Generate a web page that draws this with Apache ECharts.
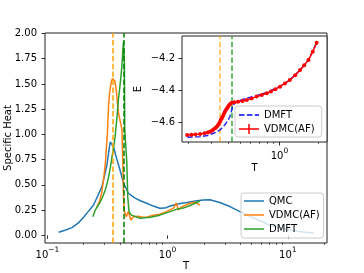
<!DOCTYPE html>
<html><head><meta charset="utf-8">
<script src="https://cdn.jsdelivr.net/npm/echarts@6/dist/echarts.min.js"></script>
<style>html,body{margin:0;padding:0;background:#fff}#c{width:364px;height:273px}</style>
</head><body><div id="c"></div><script>
// ---- main panel: specific heat vs T ----
const qmcT = [0.124,0.14,0.16,0.18,0.2,0.22,0.242,0.262,0.284,0.3,0.313,0.325,0.333,0.345,0.355,0.373,0.398,0.43,0.472,0.537,0.6,0.67,0.76,0.86,0.95,1.05,1.27,1.45,1.7,1.98,2.25,2.72,3.3,4.0,5.0,6.0,7.1,8.5,10,12,14,16.5];
const qmcC = [0.03,0.05,0.076,0.12,0.18,0.24,0.30,0.39,0.48,0.6,0.70,0.84,0.925,0.90,0.875,0.78,0.665,0.517,0.417,0.368,0.34,0.318,0.29,0.268,0.27,0.29,0.315,0.325,0.34,0.351,0.352,0.325,0.285,0.235,0.18,0.14,0.10,0.075,0.055,0.04,0.03,0.022];
const vdmcT = [0.258,0.27,0.283,0.293,0.303,0.31,0.316,0.323,0.33,0.34,0.348,0.355,0.364,0.374,0.382,0.391,0.405,0.417,0.424,0.43,0.436,0.453,0.472,0.495,0.52,0.574,0.62,0.67,0.76,0.86,0.98,1.12,1.18,1.23,1.3,1.48,1.69,1.86];
const vdmcC = [0.28,0.33,0.42,0.55,0.70,0.88,1.02,1.3,1.42,1.52,1.555,1.56,1.53,1.44,1.32,1.21,1.12,1.05,0.72,0.38,0.24,0.185,0.235,0.152,0.185,0.19,0.18,0.18,0.20,0.21,0.235,0.27,0.32,0.25,0.28,0.31,0.33,0.30];
const dmftT = [0.239,0.25,0.262,0.275,0.29,0.303,0.313,0.323,0.335,0.345,0.356,0.366,0.378,0.39,0.405,0.417,0.425,0.43,0.437,0.44,0.458,0.466,0.478,0.5,0.53,0.59,0.65,0.72,0.86,1.05,1.2,1.35,1.5,1.64,1.86];
const dmftC = [0.185,0.25,0.29,0.33,0.39,0.45,0.51,0.58,0.68,0.78,0.88,0.98,1.15,1.345,1.52,1.68,1.85,1.92,1.71,1.05,0.72,0.38,0.235,0.2,0.19,0.17,0.175,0.18,0.2,0.235,0.26,0.27,0.29,0.31,0.34];
const tcVDMC = 0.353;
const tcDMFT = 0.43;
const mainYTicks = [0,0.25,0.5,0.75,1.0,1.25,1.5,1.75,2.0];
const mainXMajor = [0.1,1,10];
const mainXMinor = [0.2,0.3,0.4,0.5,0.6,0.7,0.8,0.9,2,3,4,5,6,7,8,9,20];
// ---- inset: energy vs T ----
const vdmcET = [0.195,0.21,0.225,0.245,0.265,0.28,0.292,0.302,0.31,0.32,0.329,0.335,0.342,0.348,0.353,0.36,0.366,0.373,0.38,0.388,0.395,0.403,0.41,0.42,0.43,0.45,0.48,0.52,0.56,0.61,0.667,0.73,0.797,0.86,0.93,1.01,1.1,1.2,1.32,1.44,1.55,1.67,1.8,1.93];
const vdmcE = [-4.676,-4.675,-4.673,-4.67,-4.666,-4.661,-4.656,-4.65,-4.643,-4.635,-4.625,-4.617,-4.607,-4.596,-4.583,-4.572,-4.56,-4.546,-4.532,-4.52,-4.51,-4.499,-4.49,-4.482,-4.476,-4.473,-4.47,-4.465,-4.459,-4.449,-4.438,-4.428,-4.417,-4.406,-4.392,-4.376,-4.356,-4.335,-4.305,-4.273,-4.243,-4.21,-4.16,-4.103];
const dmftET = [0.195,0.245,0.28,0.31,0.33,0.348,0.37,0.39,0.405,0.416,0.426,0.436,0.455,0.5,0.56,0.667,0.8,1.0,1.2,1.44,1.67,1.93];
const dmftE = [-4.69,-4.687,-4.68,-4.666,-4.657,-4.645,-4.625,-4.6,-4.58,-4.56,-4.53,-4.5,-4.476,-4.46,-4.448,-4.432,-4.412,-4.375,-4.335,-4.273,-4.21,-4.103];
const insetYTicks = [-4.6,-4.4,-4.2];
const insetXMajor = [1];
const insetXMinor = [0.2,0.3,0.4,0.5,0.6,0.7,0.8,0.9,2];

const FONT = 'DejaVu Sans';
const zip = (a, b) => a.map((v, i) => [v, b[i]]);
const pow10Label = v => {
  const e = Math.round(Math.log10(v));
  return '{b|10}{s|' + (e < 0 ? '\u2212' + (-e) : String(e)) + '}';
};
const rich = {
  b: {fontSize: 10, fontFamily: FONT, color: '#000', lineHeight: 14, verticalAlign: 'bottom'},
  s: {fontSize: 7.5, fontFamily: FONT, color: '#000', lineHeight: 8, verticalAlign: 'top'}
};
const tickStyle = {color: '#000', width: 0.8};
const minorTickStyle = {color: '#000', width: 0.6};
const nameStyle = {fontSize: 10, fontFamily: FONT, color: '#000'};

const lineIcon = 'path://M0,0L0,0M0,10L0,10M0,4.25L20,4.25L20,5.75L0,5.75Z';
const dashIcon = 'path://M0,0L0,0M0,10L0,10M0,4.25h5.5v1.5h-5.5zM7.9,4.25h5.5v1.5h-5.5zM15.8,4.25h4.2v1.5h-4.2z';
const plusIcon = 'path://M0,4.25h20v1.5h-20zM9.25,0h1.5v10h-1.5z';

function logX(grid, min, max, major, minor, margin, name, nameGap) {
  return [{
    type: 'log', gridIndex: grid, min: min, max: max, logBase: 10,
    axisLine: {show: false}, splitLine: {show: false},
    axisTick: {show: true, customValues: major, length: 3.5, lineStyle: tickStyle},
    axisLabel: {show: true, customValues: major, formatter: pow10Label, rich: rich, margin: margin},
    name: name, nameLocation: 'middle', nameGap: nameGap, nameMoveOverlap: false,
    nameTextStyle: nameStyle
  }, {
    type: 'log', gridIndex: grid, min: min, max: max, logBase: 10, position: 'bottom',
    axisLine: {show: false}, splitLine: {show: false},
    axisTick: {show: true, customValues: minor, length: 2, lineStyle: minorTickStyle},
    axisLabel: {show: false}
  }];
}

const chart = echarts.init(document.getElementById('c'), null, {renderer: 'canvas'});
const dash = [5.5, 2.4];
chart.setOption({
  animation: false,
  backgroundColor: '#fff',
  textStyle: {fontFamily: FONT},
  grid: [
    {left: 45, top: 33, width: 282, height: 210, show: true, borderColor: '#222', borderWidth: 1,
     backgroundColor: 'transparent', containLabel: false, outerBoundsMode: 'none'},
    {left: 182, top: 36, width: 145, height: 106, show: true, borderColor: '#222', borderWidth: 1,
     backgroundColor: '#fff', containLabel: false, outerBoundsMode: 'none'}
  ],
  xAxis: [].concat(
    logX(0, 0.0955, 21.2, mainXMajor, mainXMinor, 3, 'T', 18),
    logX(1, 0.1778, 2.32, insetXMajor, insetXMinor, 5, 'T', 21)
  ),
  yAxis: [
    {type: 'value', gridIndex: 0, min: -0.076, max: 2.005,
     axisLine: {show: false}, splitLine: {show: false},
     axisTick: {customValues: mainYTicks, length: 3.5, lineStyle: tickStyle},
     axisLabel: {customValues: mainYTicks, formatter: v => v.toFixed(2), fontSize: 10, fontFamily: FONT, color: '#000', margin: 8},
     name: 'Specific Heat', nameLocation: 'middle', nameGap: 32, nameMoveOverlap: false,
     nameTextStyle: nameStyle},
    {type: 'value', gridIndex: 1, min: -4.72, max: -4.0615,
     axisLine: {show: false}, splitLine: {show: false},
     axisTick: {customValues: insetYTicks, length: 3.5, lineStyle: tickStyle},
     axisLabel: {customValues: insetYTicks, formatter: v => '\u2212' + Math.abs(v).toFixed(1), fontSize: 10, fontFamily: FONT, color: '#000', margin: 7},
     name: 'E', nameLocation: 'middle', nameGap: 39, nameMoveOverlap: false,
     nameTextStyle: nameStyle}
  ],
  legend: [
    {left: 241, top: 193, orient: 'vertical', selectedMode: false,
     data: [{name: 'QMC', icon: lineIcon}, {name: 'VDMC(AF)', icon: lineIcon}, {name: 'DMFT', icon: lineIcon}],
     itemWidth: 20, itemHeight: 10, itemGap: 2, padding: [2, 4, 3, 3],
     itemStyle: {borderWidth: 0}, lineStyle: {width: 0},
     backgroundColor: 'rgba(255,255,255,0.8)', borderColor: '#cccccc', borderWidth: 1, borderRadius: 3,
     textStyle: {fontSize: 10, fontFamily: FONT, color: '#000', lineHeight: 12}},
    {left: 235, top: 106, orient: 'vertical', selectedMode: false,
     data: [{name: 'DMFT ', icon: dashIcon}, {name: 'VDMC(AF) ', icon: plusIcon}],
     itemWidth: 20, itemHeight: 10, itemGap: 2, padding: [3, 4, 2, 4],
     itemStyle: {borderWidth: 0}, lineStyle: {width: 0},
     backgroundColor: 'rgba(255,255,255,0.8)', borderColor: '#cccccc', borderWidth: 1, borderRadius: 3,
     textStyle: {fontSize: 10, fontFamily: FONT, color: '#000', lineHeight: 12}}
  ],
  series: [
    {name: 'QMC', type: 'line', xAxisIndex: 0, yAxisIndex: 0, data: zip(qmcT, qmcC),
     showSymbol: false, symbol: 'none', color: '#1f77b4', lineStyle: {width: 1.5, color: '#1f77b4'}, z: 2},
    {name: 'VDMC(AF)', type: 'line', xAxisIndex: 0, yAxisIndex: 0, data: zip(vdmcT, vdmcC),
     showSymbol: false, symbol: 'none', color: '#ff7f0e', lineStyle: {width: 1.5, color: '#ff7f0e'}, z: 3},
    {name: 'DMFT', type: 'line', xAxisIndex: 0, yAxisIndex: 0, data: zip(dmftT, dmftC),
     showSymbol: false, symbol: 'none', color: '#2ca02c', lineStyle: {width: 1.5, color: '#2ca02c'}, z: 4,
     markLine: {silent: true, symbol: ['none', 'none'], label: {show: false}, animation: false,
       data: [
         {xAxis: tcVDMC, lineStyle: {color: '#ffa500', type: dash, width: 1.5}},
         {xAxis: tcDMFT, lineStyle: {color: '#008000', type: dash, width: 1.5}}
       ]}},
    {name: 'DMFT ', type: 'line', xAxisIndex: 2, yAxisIndex: 1, data: zip(dmftET, dmftE),
     showSymbol: false, symbol: 'none', color: '#0000ff', lineStyle: {width: 1.5, color: '#0000ff', type: dash, opacity: 0.85}, z: 5,
     markLine: {silent: true, symbol: ['none', 'none'], label: {show: false}, animation: false,
       data: [
         {xAxis: tcVDMC, lineStyle: {color: '#ffa500', type: dash, width: 1.5, opacity: 0.75}},
         {xAxis: tcDMFT, lineStyle: {color: '#2ca02c', type: dash, width: 1.5, opacity: 0.9}}
       ]}},
    {name: 'VDMC(AF) ', type: 'line', xAxisIndex: 2, yAxisIndex: 1, data: zip(vdmcET, vdmcE),
     showSymbol: true, symbol: 'circle', symbolSize: 4, color: '#ff0000',
     itemStyle: {color: '#ff0000', borderWidth: 0}, lineStyle: {width: 1.5, color: '#ff0000'}, z: 6}
  ]
});
</script></body></html>
